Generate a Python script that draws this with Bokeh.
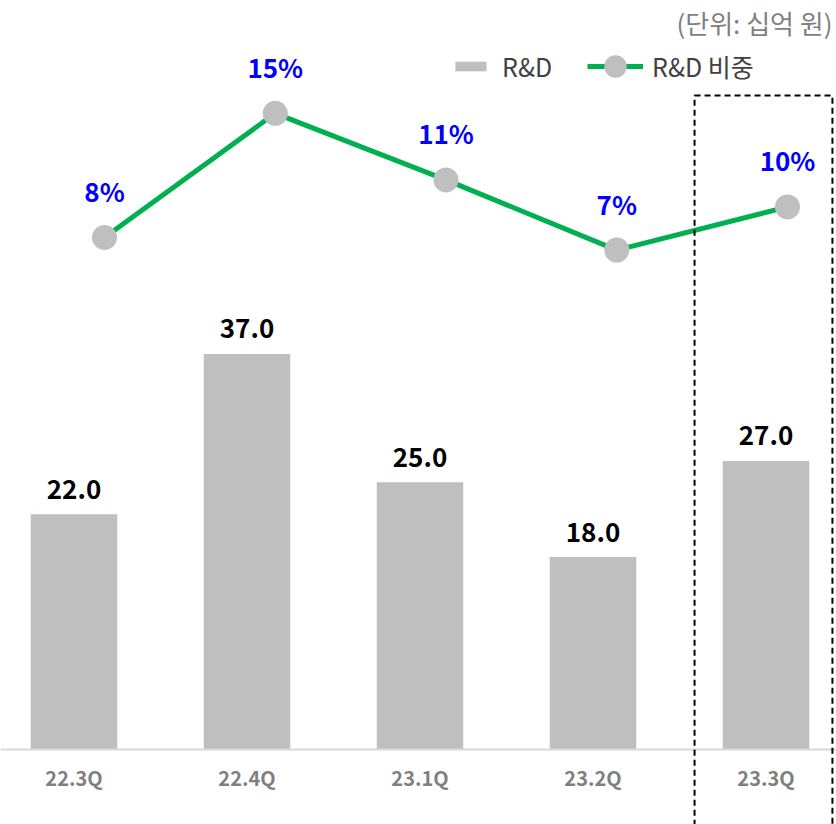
from bokeh.plotting import figure
from bokeh.models import (ColumnDataSource, Range1d, Span, Legend, LegendItem,
                          BoxAnnotation, Label)
from bokeh.core.properties import value
from bokeh.embed import file_html
from bokeh.resources import INLINE

# ---- data ----
quarters = ["22.3Q", "22.4Q", "23.1Q", "23.2Q", "23.3Q"]
rnd = [22.0, 37.0, 25.0, 18.0, 27.0]            # 십억 원
rnd_share = [8.0, 14.9, 11.2, 7.3, 9.7]          # %
unit_text = "(단위: 십억 원)"

idx = list(range(len(quarters)))
src = ColumnDataSource(dict(
    x=idx, q=quarters, rnd=rnd,
    rnd_lbl=[f"{v:.1f}" for v in rnd],
    pct=rnd_share,
    pct_lbl=[f"{round(v)}%" for v in rnd_share],
    zero=[0] * len(idx),
))

FONT = value("Noto Sans CJK KR")

p = figure(width=836, height=824, output_backend="svg", toolbar_location=None,
           x_range=Range1d(-0.4249, 4.4075), y_range=Range1d(-7.016, 70.07),
           x_axis_location=None, y_axis_location=None,
           min_border=0, outline_line_color=None, background_fill_color="white",
           border_fill_color="white")
p.xgrid.visible = False
p.ygrid.visible = False
# secondary axes for the share line (as in the original combo chart)
p.extra_y_ranges = {"pct": Range1d(-24.61, 21.167)}
p.extra_x_ranges = {"pctx": Range1d(-0.609, 4.287)}

# bars
bars = p.vbar(x="x", top="rnd", bottom=0, width=0.5, source=src,
              fill_color="#BFBFBF", line_color=None)

# baseline
p.add_layout(Span(location=0, dimension="width", line_color="#D9D9D9", line_width=2))

# bar value labels
p.text(x="x", y="rnd", text="rnd_lbl", source=src, text_align="center",
       text_baseline="middle", y_offset=-25, text_font=FONT,
       text_font_style="bold", text_font_size="26px", text_color="#000000")

# category labels
p.text(x="x", y="zero", text="q", source=src, text_align="center",
       text_baseline="middle", y_offset=28, text_font=FONT,
       text_font_style="bold", text_font_size="20px", text_color="#7F7F7F")

# share line
line = p.line(x="x", y="pct", source=src, x_range_name="pctx", y_range_name="pct",
              line_color="#00B050", line_width=5)
dots = p.scatter(x="x", y="pct", source=src, x_range_name="pctx", y_range_name="pct",
                 size=25, fill_color="#BFBFBF", line_color=None)

p.text(x="x", y="pct", text="pct_lbl", source=src, x_range_name="pctx",
       y_range_name="pct", text_align="center", text_baseline="middle",
       y_offset=-47, text_font=FONT, text_font_style="bold",
       text_font_size="26px", text_color="#0000FF")

# highlight box on last quarter
last = len(idx) - 1
p.add_layout(BoxAnnotation(left=last - 0.413, right=last + 0.384,
                           top=61.18, bottom=-12, fill_alpha=0,
                           line_color="#000000", line_alpha=1.0, line_width=2,
                           line_dash="6 4"))

# legends
common = dict(padding=0, margin=0, border_line_alpha=0, background_fill_alpha=0,
              label_text_font="Noto Sans CJK KR", label_text_font_size="25px",
              label_text_color="#404040", spacing=0)
leg1 = Legend(items=[LegendItem(label="R&D", renderers=[bars])],
              location=(451, 740), glyph_width=39, glyph_height=12,
              label_standoff=12, **common)
leg2 = Legend(items=[LegendItem(label="R&D 비중", renderers=[line, dots])],
              location=(587, 728), glyph_width=56, glyph_height=60,
              label_standoff=9, **common)
p.add_layout(leg1)
p.add_layout(leg2)

# unit label
p.add_layout(Label(x=832, y=802, x_units="screen", y_units="screen",
                   text=unit_text, text_align="right", text_baseline="middle",
                   text_font="Noto Sans CJK KR", text_font_size="26px",
                   text_color="#7F7F7F"))

open("out.html", "w").write(file_html(p, INLINE))
